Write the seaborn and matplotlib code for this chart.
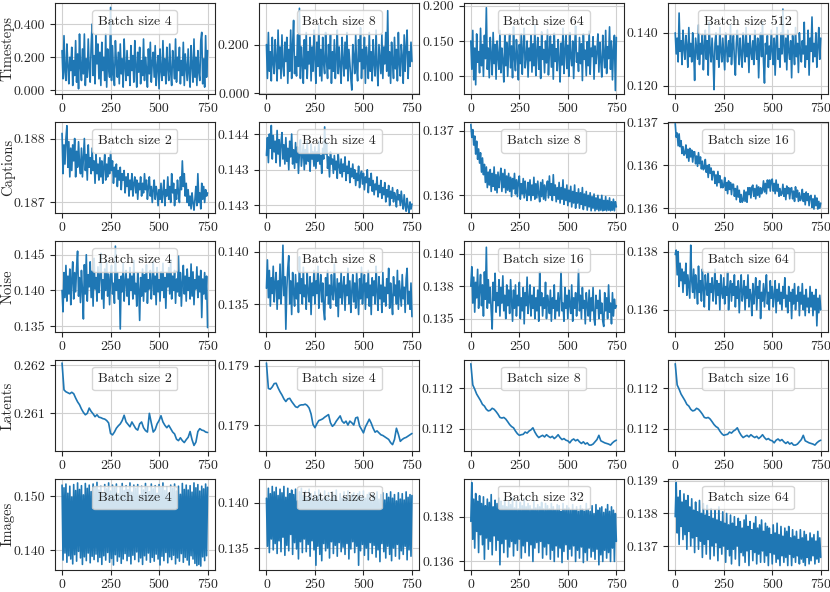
import numpy as np
import matplotlib
matplotlib.use("Agg")
import matplotlib.pyplot as plt
import seaborn as sns

# training steps (x axis)
steps = np.arange(0, 751, 5)
latent_steps = np.arange(0, 751, 10)

# ---- Timesteps ----
timesteps_bs4 = [0.240, 0.070, 0.330, 0.110, 0.060, 0.280, 0.150, 0.040, 0.200, 0.120,
                 0.260, 0.030, 0.180, 0.090, 0.300, 0.050, 0.220, 0.010, 0.340, 0.140,
                 0.060, 0.250, 0.100, 0.340, 0.030, 0.190, 0.080, 0.310, 0.130, 0.050,
                 0.270, 0.400, 0.090, 0.210, 0.040, 0.330, 0.160, 0.280, 0.070, 0.230,
                 0.030, 0.290, 0.120, 0.200, 0.060, 0.340, 0.020, 0.250, 0.140, 0.080,
                 0.500, 0.060, 0.270, 0.110, 0.030, 0.300, 0.170, 0.080, 0.230, 0.040,
                 0.280, 0.100, 0.190, 0.020, 0.310, 0.140, 0.060, 0.240, 0.090, 0.180,
                 0.030, 0.270, 0.120, 0.210, 0.050, 0.300, 0.150, 0.020, 0.230, 0.110,
                 0.260, 0.040, 0.180, 0.090, 0.310, 0.060, 0.200, 0.130, 0.020, 0.250,
                 0.100, 0.290, 0.050, 0.170, 0.230, 0.080, 0.270, 0.030, 0.140, 0.210,
                 0.010, 0.250, 0.120, 0.060, 0.300, 0.090, 0.190, 0.040, 0.260, 0.130,
                 0.060, 0.280, 0.110, 0.030, 0.240, 0.160, 0.070, 0.310, 0.050, 0.200,
                 0.120, 0.260, 0.040, 0.180, 0.090, 0.290, 0.030, 0.220, 0.140, 0.060,
                 0.250, 0.100, 0.020, 0.270, 0.150, 0.050, 0.310, 0.080, 0.200, 0.030,
                 0.240, 0.110, 0.060, 0.300, 0.350, 0.040, 0.190, 0.020, 0.330, 0.080,
                 0.240]
timesteps_bs8 = [0.200, 0.060, 0.250, 0.090, 0.170, 0.050, 0.230, 0.120, 0.080, 0.220,
                 0.140, 0.050, 0.260, 0.100, 0.190, 0.060, 0.240, 0.110, 0.070, 0.210,
                 0.130, 0.230, 0.040, 0.180, 0.090, 0.260, 0.060, 0.200, 0.300, 0.080,
                 0.150, 0.070, 0.240, 0.110, 0.350, 0.060, 0.190, 0.130, 0.040, 0.220,
                 0.100, 0.250, 0.060, 0.170, 0.120, 0.230, 0.050, 0.190, 0.090, 0.260,
                 0.140, 0.040, 0.210, 0.110, 0.280, 0.070, 0.180, 0.050, 0.230, 0.120,
                 0.080, 0.250, 0.130, 0.060, 0.200, 0.100, 0.240, 0.040, 0.170, 0.090,
                 0.220, 0.060, 0.150, 0.260, 0.080, 0.190, 0.110, 0.040, 0.230, 0.130,
                 0.070, 0.210, 0.100, 0.250, 0.050, 0.180, 0.120, 0.060, 0.012, 0.200,
                 0.150, 0.080, 0.240, 0.110, 0.050, 0.220, 0.130, 0.270, 0.060, 0.180,
                 0.100, 0.230, 0.040, 0.190, 0.140, 0.060, 0.250, 0.090, 0.170, 0.050,
                 0.220, 0.120, 0.070, 0.260, 0.110, 0.030, 0.200, 0.140, 0.080, 0.240,
                 0.060, 0.190, 0.120, 0.250, 0.090, 0.340, 0.070, 0.170, 0.040, 0.210,
                 0.130, 0.060, 0.230, 0.100, 0.180, 0.050, 0.250, 0.120, 0.070, 0.200,
                 0.150, 0.040, 0.240, 0.090, 0.190, 0.260, 0.060, 0.170, 0.110, 0.210,
                 0.130]
timesteps_bs64 = [0.150, 0.110, 0.165, 0.095, 0.140, 0.088, 0.160, 0.120, 0.135, 0.105,
                  0.168, 0.115, 0.145, 0.100, 0.158, 0.125, 0.197, 0.110, 0.140, 0.098,
                  0.155, 0.130, 0.102, 0.162, 0.118, 0.145, 0.096, 0.150, 0.128, 0.110,
                  0.165, 0.105, 0.140, 0.122, 0.092, 0.158, 0.115, 0.148, 0.100, 0.135,
                  0.160, 0.112, 0.143, 0.098, 0.170, 0.125, 0.108, 0.152, 0.130, 0.095,
                  0.145, 0.118, 0.160, 0.103, 0.138, 0.168, 0.112, 0.127, 0.150, 0.099,
                  0.140, 0.122, 0.158, 0.106, 0.146, 0.115, 0.172, 0.101, 0.133, 0.155,
                  0.110, 0.142, 0.097, 0.163, 0.124, 0.138, 0.105, 0.150, 0.119, 0.166,
                  0.102, 0.134, 0.157, 0.113, 0.145, 0.096, 0.161, 0.121, 0.139, 0.108,
                  0.152, 0.125, 0.092, 0.147, 0.116, 0.168, 0.104, 0.136, 0.158, 0.111,
                  0.144, 0.100, 0.162, 0.127, 0.115, 0.150, 0.097, 0.139, 0.171, 0.120,
                  0.133, 0.107, 0.155, 0.118, 0.146, 0.094, 0.160, 0.124, 0.137, 0.101,
                  0.149, 0.115, 0.164, 0.103, 0.140, 0.128, 0.156, 0.096, 0.143, 0.118,
                  0.135, 0.160, 0.106, 0.148, 0.121, 0.099, 0.158, 0.130, 0.112, 0.165,
                  0.104, 0.142, 0.125, 0.170, 0.110, 0.150, 0.095, 0.138, 0.158, 0.080,
                  0.155]
timesteps_bs512 = [0.1400, 0.1320, 0.1380, 0.1290, 0.1475, 0.1330, 0.1370, 0.1280, 0.1410, 0.1340,
                   0.1300, 0.1390, 0.1350, 0.1270, 0.1420, 0.1310, 0.1360, 0.1290, 0.1400, 0.1330,
                   0.1220, 0.1380, 0.1340, 0.1300, 0.1430, 0.1280, 0.1360, 0.1320, 0.1395, 0.1260,
                   0.1350, 0.1410, 0.1300, 0.1370, 0.1240, 0.1440, 0.1330, 0.1290, 0.1380, 0.1310,
                   0.1185, 0.1360, 0.1400, 0.1300, 0.1350, 0.1270, 0.1420, 0.1330, 0.1290, 0.1380,
                   0.1320, 0.1260, 0.1400, 0.1340, 0.1290, 0.1370, 0.1310, 0.1430, 0.1280, 0.1350,
                   0.1390, 0.1300, 0.1240, 0.1360, 0.1410, 0.1330, 0.1280, 0.1380, 0.1320, 0.1270,
                   0.1400, 0.1340, 0.1290, 0.1420, 0.1310, 0.1360, 0.1250, 0.1390, 0.1330, 0.1300,
                   0.1370, 0.1280, 0.1410, 0.1340, 0.1300, 0.1380, 0.1230, 0.1350, 0.1400, 0.1310,
                   0.1440, 0.1290, 0.1210, 0.1360, 0.1320, 0.1390, 0.1270, 0.1350, 0.1300, 0.1410,
                   0.1330, 0.1280, 0.1380, 0.1240, 0.1360, 0.1420, 0.1300, 0.1340, 0.1270, 0.1400,
                   0.1320, 0.1490, 0.1350, 0.1290, 0.1380, 0.1260, 0.1410, 0.1330, 0.1300, 0.1370,
                   0.1230, 0.1390, 0.1340, 0.1280, 0.1420, 0.1310, 0.1360, 0.1250, 0.1400, 0.1330,
                   0.1290, 0.1370, 0.1320, 0.1440, 0.1270, 0.1350, 0.1300, 0.1410, 0.1240, 0.1380,
                   0.1330, 0.1460, 0.1290, 0.1360, 0.1310, 0.1400, 0.1270, 0.1350, 0.1420, 0.1300,
                   0.1380]

# ---- Captions ----
captions_bs2 = [0.18808, 0.18745, 0.18790, 0.18760, 0.18800, 0.18820, 0.18755, 0.18795, 0.18740, 0.18785,
                0.18750, 0.18790, 0.18765, 0.18800, 0.18740, 0.18780, 0.18755, 0.18795, 0.18760, 0.18745,
                0.18785, 0.18740, 0.18770, 0.18800, 0.18750, 0.18775, 0.18735, 0.18790, 0.18755, 0.18770,
                0.18745, 0.18785, 0.18750, 0.18765, 0.18730, 0.18775, 0.18745, 0.18760, 0.18735, 0.18770,
                0.18740, 0.18765, 0.18730, 0.18755, 0.18775, 0.18735, 0.18760, 0.18740, 0.18770, 0.18745,
                0.18780, 0.18750, 0.18765, 0.18730, 0.18755, 0.18740, 0.18760, 0.18725, 0.18750, 0.18735,
                0.18755, 0.18720, 0.18745, 0.18735, 0.18750, 0.18715, 0.18740, 0.18725, 0.18745, 0.18710,
                0.18735, 0.18720, 0.18745, 0.18710, 0.18730, 0.18740, 0.18715, 0.18735, 0.18705, 0.18730,
                0.18720, 0.18740, 0.18710, 0.18730, 0.18715, 0.18745, 0.18720, 0.18735, 0.18705, 0.18725,
                0.18740, 0.18710, 0.18725, 0.18700, 0.18720, 0.18735, 0.18705, 0.18725, 0.18715, 0.18695,
                0.18720, 0.18705, 0.18730, 0.18700, 0.18715, 0.18735, 0.18695, 0.18720, 0.18710, 0.18740,
                0.18705, 0.18725, 0.18700, 0.18745, 0.18715, 0.18730, 0.18695, 0.18720, 0.18705, 0.18735,
                0.18715, 0.18700, 0.18740, 0.18720, 0.18765, 0.18725, 0.18745, 0.18710, 0.18730, 0.18700,
                0.18720, 0.18695, 0.18710, 0.18690, 0.18715, 0.18700, 0.18688, 0.18705, 0.18725, 0.18695,
                0.18745, 0.18700, 0.18715, 0.18690, 0.18730, 0.18705, 0.18725, 0.18700, 0.18720, 0.18710,
                0.18715]
captions_bs4 = [0.14370, 0.14395, 0.14360, 0.14400, 0.14380, 0.14412, 0.14365, 0.14398, 0.14375, 0.14390,
                0.14360, 0.14405, 0.14372, 0.14392, 0.14355, 0.14388, 0.14402, 0.14365, 0.14385, 0.14358,
                0.14395, 0.14362, 0.14380, 0.14350, 0.14390, 0.14368, 0.14400, 0.14358, 0.14378, 0.14352,
                0.14388, 0.14360, 0.14382, 0.14345, 0.14375, 0.14392, 0.14355, 0.14370, 0.14385, 0.14350,
                0.14378, 0.14358, 0.14390, 0.14362, 0.14372, 0.14348, 0.14386, 0.14365, 0.14375, 0.14355,
                0.14382, 0.14352, 0.14375, 0.14362, 0.14390, 0.14358, 0.14370, 0.14345, 0.14380, 0.14365,
                0.14410, 0.14372, 0.14388, 0.14352, 0.14368, 0.14340, 0.14375, 0.14358, 0.14365, 0.14345,
                0.14370, 0.14350, 0.14362, 0.14338, 0.14372, 0.14355, 0.14345, 0.14365, 0.14340, 0.14358,
                0.14348, 0.14368, 0.14335, 0.14355, 0.14345, 0.14362, 0.14332, 0.14352, 0.14340, 0.14358,
                0.14338, 0.14350, 0.14328, 0.14345, 0.14335, 0.14355, 0.14325, 0.14342, 0.14348, 0.14330,
                0.14345, 0.14322, 0.14340, 0.14332, 0.14350, 0.14318, 0.14338, 0.14328, 0.14345, 0.14320,
                0.14335, 0.14315, 0.14330, 0.14322, 0.14340, 0.14312, 0.14328, 0.14318, 0.14335, 0.14310,
                0.14325, 0.14315, 0.14332, 0.14305, 0.14322, 0.14312, 0.14328, 0.14300, 0.14320, 0.14310,
                0.14325, 0.14305, 0.14318, 0.14312, 0.14298, 0.14322, 0.14308, 0.14315, 0.14300, 0.14320,
                0.14305, 0.14295, 0.14315, 0.14300, 0.14292, 0.14310, 0.14298, 0.14290, 0.14305, 0.14295,
                0.14302]
captions_bs8 = [0.13710, 0.13690, 0.13702, 0.13678, 0.13692, 0.13664, 0.13684, 0.13656, 0.13672, 0.13650,
                0.13666, 0.13636, 0.13658, 0.13632, 0.13648, 0.13620, 0.13644, 0.13612, 0.13636, 0.13616,
                0.13640, 0.13606, 0.13634, 0.13614, 0.13644, 0.13608, 0.13632, 0.13604, 0.13636, 0.13612,
                0.13628, 0.13642, 0.13606, 0.13634, 0.13612, 0.13640, 0.13604, 0.13630, 0.13608, 0.13634,
                0.13606, 0.13628, 0.13598, 0.13626, 0.13610, 0.13634, 0.13602, 0.13624, 0.13598, 0.13622,
                0.13630, 0.13594, 0.13618, 0.13602, 0.13626, 0.13596, 0.13622, 0.13604, 0.13592, 0.13620,
                0.13600, 0.13624, 0.13592, 0.13616, 0.13600, 0.13628, 0.13594, 0.13618, 0.13596, 0.13622,
                0.13602, 0.13590, 0.13620, 0.13598, 0.13624, 0.13594, 0.13616, 0.13592, 0.13614, 0.13622,
                0.13596, 0.13630, 0.13600, 0.13618, 0.13592, 0.13632, 0.13600, 0.13616, 0.13590, 0.13612,
                0.13594, 0.13620, 0.13588, 0.13612, 0.13594, 0.13624, 0.13586, 0.13610, 0.13592, 0.13616,
                0.13584, 0.13608, 0.13590, 0.13614, 0.13582, 0.13606, 0.13588, 0.13616, 0.13580, 0.13604,
                0.13588, 0.13610, 0.13580, 0.13604, 0.13586, 0.13612, 0.13578, 0.13602, 0.13584, 0.13606,
                0.13577, 0.13600, 0.13582, 0.13604, 0.13576, 0.13598, 0.13580, 0.13602, 0.13576, 0.13596,
                0.13578, 0.13600, 0.13576, 0.13594, 0.13577, 0.13600, 0.13576, 0.13592, 0.13577, 0.13598,
                0.13576, 0.13592, 0.13577, 0.13596, 0.13576, 0.13590, 0.13577, 0.13594, 0.13576, 0.13590,
                0.13582]
captions_bs16 = [0.13699, 0.13683, 0.13688, 0.13673, 0.13687, 0.13672, 0.13679, 0.13664, 0.13672, 0.13662,
                 0.13664, 0.13674, 0.13659, 0.13669, 0.13655, 0.13670, 0.13660, 0.13668, 0.13654, 0.13666,
                 0.13666, 0.13652, 0.13661, 0.13649, 0.13665, 0.13652, 0.13660, 0.13646, 0.13655, 0.13645,
                 0.13647, 0.13657, 0.13642, 0.13650, 0.13636, 0.13651, 0.13641, 0.13647, 0.13633, 0.13643,
                 0.13643, 0.13629, 0.13639, 0.13626, 0.13643, 0.13630, 0.13638, 0.13624, 0.13633, 0.13624,
                 0.13626, 0.13636, 0.13621, 0.13630, 0.13617, 0.13632, 0.13622, 0.13630, 0.13616, 0.13628,
                 0.13628, 0.13614, 0.13623, 0.13610, 0.13626, 0.13613, 0.13621, 0.13607, 0.13616, 0.13607,
                 0.13609, 0.13621, 0.13608, 0.13619, 0.13607, 0.13624, 0.13616, 0.13624, 0.13612, 0.13625,
                 0.13627, 0.13614, 0.13623, 0.13611, 0.13627, 0.13615, 0.13625, 0.13613, 0.13624, 0.13617,
                 0.13621, 0.13632, 0.13619, 0.13629, 0.13617, 0.13633, 0.13624, 0.13633, 0.13620, 0.13633,
                 0.13634, 0.13620, 0.13629, 0.13617, 0.13633, 0.13620, 0.13628, 0.13614, 0.13623, 0.13615,
                 0.13617, 0.13628, 0.13614, 0.13623, 0.13610, 0.13626, 0.13617, 0.13624, 0.13611, 0.13623,
                 0.13624, 0.13611, 0.13620, 0.13608, 0.13625, 0.13613, 0.13621, 0.13608, 0.13618, 0.13609,
                 0.13612, 0.13622, 0.13608, 0.13617, 0.13604, 0.13619, 0.13609, 0.13617, 0.13603, 0.13614,
                 0.13615, 0.13601, 0.13611, 0.13599, 0.13615, 0.13603, 0.13612, 0.13599, 0.13608, 0.13600,
                 0.13606]

# ---- Noise ----
noise_bs4 = [0.1400, 0.1370, 0.1425, 0.1390, 0.1435, 0.1385, 0.1420, 0.1395, 0.1430, 0.1380,
             0.1415, 0.1440, 0.1388, 0.1425, 0.1398, 0.1432, 0.1455, 0.1392, 0.1418, 0.1383,
             0.1428, 0.1400, 0.1360, 0.1436, 0.1395, 0.1450, 0.1385, 0.1422, 0.1405, 0.1440,
             0.1390, 0.1427, 0.1378, 0.1445, 0.1402, 0.1418, 0.1385, 0.1433, 0.1397, 0.1420,
             0.1452, 0.1388, 0.1415, 0.1375, 0.1430, 0.1400, 0.1440, 0.1392, 0.1423, 0.1380,
             0.1418, 0.1435, 0.1395, 0.1410, 0.1382, 0.1462, 0.1400, 0.1425, 0.1388, 0.1415,
             0.1346, 0.1420, 0.1398, 0.1438, 0.1385, 0.1412, 0.1428, 0.1392, 0.1416, 0.1380,
             0.1432, 0.1400, 0.1420, 0.1388, 0.1442, 0.1395, 0.1410, 0.1378, 0.1425, 0.1402,
             0.1358, 0.1418, 0.1392, 0.1430, 0.1385, 0.1422, 0.1398, 0.1436, 0.1382, 0.1415,
             0.1402, 0.1428, 0.1388, 0.1412, 0.1440, 0.1394, 0.1420, 0.1380, 0.1432, 0.1398,
             0.1415, 0.1385, 0.1426, 0.1400, 0.1438, 0.1390, 0.1418, 0.1375, 0.1425, 0.1405,
             0.1432, 0.1395, 0.1443, 0.1388, 0.1420, 0.1400, 0.1428, 0.1382, 0.1416, 0.1398,
             0.1448, 0.1392, 0.1425, 0.1378, 0.1412, 0.1435, 0.1395, 0.1420, 0.1385, 0.1430,
             0.1400, 0.1418, 0.1388, 0.1437, 0.1392, 0.1426, 0.1380, 0.1415, 0.1402, 0.1433,
             0.1390, 0.1420, 0.1398, 0.1428, 0.1362, 0.1416, 0.1395, 0.1425, 0.1388, 0.1420,
             0.1348]
noise_bs8 = [0.1365, 0.1392, 0.1356, 0.1382, 0.1348, 0.1375, 0.1360, 0.1386, 0.1352, 0.1370,
             0.1380, 0.1345, 0.1372, 0.1355, 0.1388, 0.1350, 0.1368, 0.1406, 0.1358, 0.1376,
             0.1326, 0.1365, 0.1384, 0.1396, 0.1350, 0.1372, 0.1340, 0.1380, 0.1362, 0.1348,
             0.1378, 0.1355, 0.1370, 0.1342, 0.1395, 0.1360, 0.1374, 0.1350, 0.1385, 0.1357,
             0.1368, 0.1345, 0.1380, 0.1362, 0.1352, 0.1376, 0.1340, 0.1370, 0.1358, 0.1382,
             0.1350, 0.1372, 0.1360, 0.1386, 0.1346, 0.1366, 0.1378, 0.1352, 0.1370, 0.1344,
             0.1335, 0.1375, 0.1358, 0.1382, 0.1350, 0.1368, 0.1346, 0.1378, 0.1360, 0.1354,
             0.1388, 0.1362, 0.1348, 0.1374, 0.1338, 0.1370, 0.1356, 0.1380, 0.1350, 0.1366,
             0.1376, 0.1344, 0.1368, 0.1358, 0.1384, 0.1350, 0.1372, 0.1342, 0.1362, 0.1378,
             0.1352, 0.1370, 0.1346, 0.1380, 0.1360, 0.1340, 0.1374, 0.1355, 0.1385, 0.1350,
             0.1366, 0.1378, 0.1345, 0.1370, 0.1356, 0.1382, 0.1348, 0.1368, 0.1340, 0.1375,
             0.1358, 0.1372, 0.1350, 0.1386, 0.1362, 0.1344, 0.1376, 0.1355, 0.1368, 0.1342,
             0.1380, 0.1352, 0.1366, 0.1348, 0.1374, 0.1360, 0.1384, 0.1346, 0.1370, 0.1356,
             0.1340, 0.1376, 0.1358, 0.1368, 0.1350, 0.1382, 0.1345, 0.1372, 0.1360, 0.1348,
             0.1378, 0.1355, 0.1366, 0.1342, 0.1374, 0.1384, 0.1350, 0.1362, 0.1345, 0.1370,
             0.1338]
noise_bs16 = [0.1375, 0.1390, 0.1362, 0.1382, 0.1355, 0.1378, 0.1366, 0.1388, 0.1358, 0.1372,
              0.1384, 0.1360, 0.1376, 0.1352, 0.1386, 0.1365, 0.1405, 0.1358, 0.1380, 0.1362,
              0.1374, 0.1356, 0.1342, 0.1378, 0.1364, 0.1385, 0.1355, 0.1370, 0.1360, 0.1380,
              0.1352, 0.1374, 0.1362, 0.1383, 0.1356, 0.1368, 0.1350, 0.1376, 0.1360, 0.1372,
              0.1354, 0.1380, 0.1364, 0.1348, 0.1372, 0.1358, 0.1376, 0.1352, 0.1368, 0.1360,
              0.1378, 0.1350, 0.1366, 0.1356, 0.1374, 0.1346, 0.1370, 0.1360, 0.1382, 0.1354,
              0.1364, 0.1376, 0.1352, 0.1368, 0.1358, 0.1374, 0.1350, 0.1366, 0.1356, 0.1372,
              0.1348, 0.1386, 0.1360, 0.1370, 0.1352, 0.1366, 0.1358, 0.1378, 0.1350, 0.1368,
              0.1362, 0.1354, 0.1372, 0.1348, 0.1366, 0.1358, 0.1376, 0.1350, 0.1364, 0.1356,
              0.1370, 0.1352, 0.1366, 0.1386, 0.1356, 0.1362, 0.1348, 0.1374, 0.1358, 0.1368,
              0.1350, 0.1372, 0.1360, 0.1354, 0.1376, 0.1348, 0.1366, 0.1358, 0.1370, 0.1352,
              0.1364, 0.1388, 0.1356, 0.1368, 0.1350, 0.1374, 0.1358, 0.1364, 0.1346, 0.1370,
              0.1360, 0.1352, 0.1372, 0.1348, 0.1366, 0.1356, 0.1374, 0.1350, 0.1345, 0.1368,
              0.1358, 0.1364, 0.1350, 0.1372, 0.1354, 0.1362, 0.1348, 0.1344, 0.1370, 0.1356,
              0.1366, 0.1350, 0.1376, 0.1355, 0.1362, 0.1346, 0.1370, 0.1352, 0.1365, 0.1358,
              0.1360]
noise_bs64 = [0.13790, 0.13805, 0.13720, 0.13800, 0.13680, 0.13760, 0.13700, 0.13740, 0.13660, 0.13730,
              0.13690, 0.13760, 0.13650, 0.13720, 0.13680, 0.13640, 0.13822, 0.13700, 0.13660, 0.13740,
              0.13640, 0.13720, 0.13680, 0.13620, 0.13750, 0.13660, 0.13700, 0.13630, 0.13740, 0.13670,
              0.13610, 0.13720, 0.13680, 0.13650, 0.13730, 0.13600, 0.13690, 0.13660, 0.13710, 0.13630,
              0.13680, 0.13740, 0.13620, 0.13700, 0.13650, 0.13690, 0.13600, 0.13720, 0.13660, 0.13640,
              0.13710, 0.13620, 0.13680, 0.13650, 0.13730, 0.13600, 0.13670, 0.13700, 0.13630, 0.13690,
              0.13650, 0.13720, 0.13610, 0.13680, 0.13640, 0.13700, 0.13590, 0.13670, 0.13720, 0.13630,
              0.13660, 0.13700, 0.13600, 0.13680, 0.13640, 0.13720, 0.13610, 0.13670, 0.13650, 0.13580,
              0.13690, 0.13620, 0.13660, 0.13710, 0.13600, 0.13680, 0.13640, 0.13700, 0.13570, 0.13660,
              0.13630, 0.13690, 0.13610, 0.13670, 0.13720, 0.13620, 0.13660, 0.13600, 0.13700, 0.13640,
              0.13680, 0.13610, 0.13650, 0.13700, 0.13590, 0.13670, 0.13630, 0.13690, 0.13620, 0.13660,
              0.13600, 0.13680, 0.13640, 0.13710, 0.13610, 0.13650, 0.13590, 0.13680, 0.13630, 0.13660,
              0.13570, 0.13670, 0.13620, 0.13690, 0.13600, 0.13650, 0.13630, 0.13680, 0.13580, 0.13660,
              0.13620, 0.13690, 0.13600, 0.13650, 0.13580, 0.13670, 0.13610, 0.13640, 0.13590, 0.13680,
              0.13610, 0.13660, 0.13580, 0.13650, 0.13600, 0.13670, 0.13545, 0.13640, 0.13590, 0.13650,
              0.13600]

# ---- Latents (smoother, logged every 10 steps) ----
latents_bs2 = [0.26205, 0.26149, 0.26145, 0.26143, 0.26141, 0.26144, 0.26141, 0.26132, 0.26124, 0.26118,
               0.26109, 0.26102, 0.26097, 0.26100, 0.26111, 0.26104, 0.26099, 0.26093, 0.26097, 0.26092,
               0.26091, 0.26089, 0.26088, 0.26085, 0.26080, 0.26058, 0.26055, 0.26061, 0.26069, 0.26074,
               0.26078, 0.26085, 0.26096, 0.26082, 0.26077, 0.26072, 0.26082, 0.26075, 0.26068, 0.26065,
               0.26078, 0.26082, 0.26070, 0.26064, 0.26061, 0.26100, 0.26080, 0.26061, 0.26066, 0.26078,
               0.26085, 0.26095, 0.26082, 0.26075, 0.26070, 0.26075, 0.26068, 0.26061, 0.26057, 0.26046,
               0.26043, 0.26049, 0.26043, 0.26039, 0.26045, 0.26050, 0.26062, 0.26045, 0.26033, 0.26040,
               0.26062, 0.26068, 0.26065, 0.26064, 0.26061, 0.26060]
latents_bs4 = [0.179022, 0.178808, 0.178802, 0.178821, 0.178849, 0.178852, 0.178813, 0.178780, 0.178753, 0.178720,
               0.178698, 0.178720, 0.178725, 0.178698, 0.178676, 0.178654, 0.178648, 0.178665, 0.178670, 0.178670,
               0.178676, 0.178665, 0.178643, 0.178593, 0.178505, 0.178478, 0.178511, 0.178538, 0.178544, 0.178552,
               0.178566, 0.178577, 0.178588, 0.178519, 0.178489, 0.178505, 0.178533, 0.178555, 0.178577, 0.178533,
               0.178516, 0.178533, 0.178500, 0.178533, 0.178519, 0.178500, 0.178560, 0.178566, 0.178492, 0.178464,
               0.178434, 0.178484, 0.178516, 0.178549, 0.178516, 0.178473, 0.178440, 0.178451, 0.178434, 0.178418,
               0.178412, 0.178401, 0.178390, 0.178379, 0.178352, 0.178335, 0.178379, 0.178473, 0.178423, 0.178363,
               0.178379, 0.178390, 0.178396, 0.178407, 0.178418, 0.178429]
latents_bs8 = [0.112120, 0.112016, 0.111995, 0.111971, 0.111955, 0.111939, 0.111920, 0.111912, 0.111896, 0.111888,
               0.111891, 0.111901, 0.111896, 0.111885, 0.111872, 0.111856, 0.111853, 0.111856, 0.111848, 0.111835,
               0.111821, 0.111811, 0.111805, 0.111789, 0.111776, 0.111768, 0.111771, 0.111773, 0.111784, 0.111779,
               0.111789, 0.111795, 0.111805, 0.111784, 0.111768, 0.111757, 0.111763, 0.111768, 0.111760, 0.111771,
               0.111763, 0.111757, 0.111763, 0.111752, 0.111760, 0.111771, 0.111757, 0.111747, 0.111752, 0.111744,
               0.111741, 0.111731, 0.111744, 0.111750, 0.111741, 0.111747, 0.111736, 0.111728, 0.111736, 0.111725,
               0.111731, 0.111720, 0.111720, 0.111725, 0.111736, 0.111747, 0.111768, 0.111741, 0.111736, 0.111731,
               0.111728, 0.111725, 0.111720, 0.111731, 0.111739, 0.111744]
latents_bs16 = list(latents_bs8)  # the two runs look identical in the figure

# ---- Images ----
images_bs4 = [0.1520, 0.1382, 0.1515, 0.1395, 0.1522, 0.1378, 0.1505, 0.1390, 0.1518, 0.1384,
              0.1498, 0.1375, 0.1521, 0.1392, 0.1510, 0.1380, 0.1524, 0.1398, 0.1512, 0.1386,
              0.1519, 0.1374, 0.1502, 0.1388, 0.1523, 0.1381, 0.1514, 0.1395, 0.1520, 0.1377,
              0.1508, 0.1389, 0.1522, 0.1383, 0.1516, 0.1393, 0.1525, 0.1379, 0.1511, 0.1387,
              0.1518, 0.1374, 0.1506, 0.1390, 0.1521, 0.1382, 0.1513, 0.1396, 0.1524, 0.1378,
              0.1509, 0.1385, 0.1520, 0.1373, 0.1515, 0.1392, 0.1522, 0.1380, 0.1504, 0.1388,
              0.1517, 0.1376, 0.1523, 0.1384, 0.1510, 0.1394, 0.1519, 0.1381, 0.1512, 0.1389,
              0.1524, 0.1375, 0.1507, 0.1391, 0.1520, 0.1383, 0.1514, 0.1397, 0.1521, 0.1379,
              0.1502, 0.1386, 0.1518, 0.1374, 0.1511, 0.1390, 0.1523, 0.1382, 0.1516, 0.1395,
              0.1508, 0.1378, 0.1522, 0.1387, 0.1513, 0.1380, 0.1519, 0.1393, 0.1505, 0.1384,
              0.1521, 0.1373, 0.1515, 0.1389, 0.1524, 0.1381, 0.1510, 0.1396, 0.1517, 0.1377,
              0.1506, 0.1388, 0.1520, 0.1383, 0.1514, 0.1391, 0.1522, 0.1375, 0.1509, 0.1386,
              0.1518, 0.1380, 0.1503, 0.1394, 0.1523, 0.1378, 0.1512, 0.1387, 0.1520, 0.1382,
              0.1511, 0.1373, 0.1519, 0.1390, 0.1507, 0.1384, 0.1524, 0.1376, 0.1515, 0.1372,
              0.1521, 0.1374, 0.1509, 0.1371, 0.1518, 0.1388, 0.1513, 0.1381, 0.1522, 0.1390,
              0.1516]
images_bs8 = [0.1405, 0.1352, 0.1416, 0.1345, 0.1410, 0.1360, 0.1418, 0.1348, 0.1412, 0.1355,
              0.1417, 0.1344, 0.1408, 0.1358, 0.1415, 0.1346, 0.1411, 0.1362, 0.1418, 0.1342,
              0.1406, 0.1353, 0.1416, 0.1347, 0.1410, 0.1365, 0.1414, 0.1343, 0.1409, 0.1356,
              0.1415, 0.1349, 0.1402, 0.1338, 0.1412, 0.1357, 0.1416, 0.1345, 0.1408, 0.1360,
              0.1413, 0.1346, 0.1405, 0.1354, 0.1415, 0.1341, 0.1410, 0.1358, 0.1404, 0.1348,
              0.1412, 0.1331, 0.1407, 0.1352, 0.1414, 0.1343, 0.1409, 0.1336, 0.1403, 0.1355,
              0.1413, 0.1347, 0.1406, 0.1350, 0.1411, 0.1339, 0.1404, 0.1357, 0.1412, 0.1344,
              0.1408, 0.1353, 0.1414, 0.1341, 0.1402, 0.1356, 0.1410, 0.1346, 0.1405, 0.1351,
              0.1412, 0.1343, 0.1406, 0.1355, 0.1413, 0.1338, 0.1403, 0.1349, 0.1409, 0.1357,
              0.1411, 0.1345, 0.1404, 0.1352, 0.1410, 0.1331, 0.1412, 0.1347, 0.1406, 0.1354,
              0.1413, 0.1342, 0.1405, 0.1350, 0.1409, 0.1337, 0.1411, 0.1356, 0.1402, 0.1344,
              0.1410, 0.1353, 0.1407, 0.1340, 0.1412, 0.1348, 0.1404, 0.1335, 0.1409, 0.1355,
              0.1411, 0.1346, 0.1403, 0.1339, 0.1410, 0.1352, 0.1406, 0.1343, 0.1412, 0.1336,
              0.1405, 0.1350, 0.1409, 0.1341, 0.1402, 0.1354, 0.1411, 0.1338, 0.1404, 0.1347,
              0.1410, 0.1343, 0.1403, 0.1352, 0.1412, 0.1337, 0.1406, 0.1348, 0.1409, 0.1341,
              0.1408]
images_bs32 = [0.13780, 0.13954, 0.13700, 0.13880, 0.13660, 0.13905, 0.13735, 0.13870, 0.13640, 0.13895,
               0.13720, 0.13860, 0.13675, 0.13890, 0.13610, 0.13850, 0.13705, 0.13880, 0.13655, 0.13865,
               0.13690, 0.13900, 0.13630, 0.13845, 0.13715, 0.13875, 0.13650, 0.13860, 0.13695, 0.13885,
               0.13585, 0.13870, 0.13680, 0.13850, 0.13640, 0.13880, 0.13700, 0.13845, 0.13620, 0.13870,
               0.13665, 0.13855, 0.13690, 0.13885, 0.13625, 0.13840, 0.13680, 0.13870, 0.13650, 0.13835,
               0.13700, 0.13865, 0.13615, 0.13850, 0.13670, 0.13880, 0.13640, 0.13845, 0.13690, 0.13860,
               0.13625, 0.13850, 0.13675, 0.13835, 0.13600, 0.13870, 0.13660, 0.13840, 0.13685, 0.13855,
               0.13640, 0.13845, 0.13690, 0.13865, 0.13615, 0.13835, 0.13665, 0.13860, 0.13630, 0.13850,
               0.13680, 0.13835, 0.13610, 0.13860, 0.13650, 0.13845, 0.13600, 0.13830, 0.13670, 0.13855,
               0.13620, 0.13850, 0.13660, 0.13825, 0.13595, 0.13860, 0.13645, 0.13835, 0.13675, 0.13850,
               0.13610, 0.13840, 0.13655, 0.13830, 0.13625, 0.13855, 0.13670, 0.13830, 0.13600, 0.13845,
               0.13650, 0.13825, 0.13615, 0.13850, 0.13665, 0.13835, 0.13595, 0.13825, 0.13640, 0.13860,
               0.13605, 0.13835, 0.13660, 0.13825, 0.13620, 0.13850, 0.13645, 0.13815, 0.13610, 0.13855,
               0.13655, 0.13830, 0.13585, 0.13840, 0.13630, 0.13845, 0.13600, 0.13820, 0.13650, 0.13835,
               0.13615, 0.13855, 0.13640, 0.13825, 0.13600, 0.13845, 0.13660, 0.13830, 0.13600, 0.13815,
               0.13690]
images_bs64 = [0.13790, 0.13895, 0.13740, 0.13850, 0.13705, 0.13870, 0.13760, 0.13835, 0.13720, 0.13860,
               0.13735, 0.13840, 0.13690, 0.13855, 0.13745, 0.13820, 0.13700, 0.13845, 0.13725, 0.13810,
               0.13680, 0.13835, 0.13730, 0.13805, 0.13690, 0.13840, 0.13715, 0.13800, 0.13665, 0.13830,
               0.13705, 0.13795, 0.13675, 0.13825, 0.13720, 0.13790, 0.13660, 0.13815, 0.13700, 0.13785,
               0.13670, 0.13810, 0.13710, 0.13780, 0.13655, 0.13820, 0.13695, 0.13775, 0.13675, 0.13805,
               0.13700, 0.13770, 0.13650, 0.13800, 0.13690, 0.13765, 0.13670, 0.13795, 0.13645, 0.13770,
               0.13690, 0.13790, 0.13660, 0.13760, 0.13700, 0.13785, 0.13640, 0.13775, 0.13680, 0.13755,
               0.13670, 0.13780, 0.13650, 0.13795, 0.13685, 0.13760, 0.13640, 0.13775, 0.13690, 0.13750,
               0.13655, 0.13770, 0.13680, 0.13790, 0.13645, 0.13755, 0.13675, 0.13765, 0.13650, 0.13780,
               0.13685, 0.13745, 0.13650, 0.13770, 0.13670, 0.13760, 0.13640, 0.13755, 0.13680, 0.13735,
               0.13645, 0.13765, 0.13675, 0.13740, 0.13650, 0.13770, 0.13660, 0.13735, 0.13640, 0.13760,
               0.13670, 0.13730, 0.13650, 0.13755, 0.13665, 0.13745, 0.13640, 0.13760, 0.13675, 0.13725,
               0.13640, 0.13750, 0.13665, 0.13730, 0.13650, 0.13745, 0.13670, 0.13720, 0.13645, 0.13750,
               0.13660, 0.13725, 0.13650, 0.13745, 0.13640, 0.13735, 0.13665, 0.13715, 0.13645, 0.13740,
               0.13655, 0.13725, 0.13670, 0.13735, 0.13645, 0.13715, 0.13660, 0.13745, 0.13650, 0.13725,
               0.13665]

row_names = ["Timesteps", "Captions", "Noise", "Latents", "Images"]
batch_sizes = [[4, 8, 64, 512], [2, 4, 8, 16], [4, 8, 16, 64], [2, 4, 8, 16], [4, 8, 32, 64]]
series = [[timesteps_bs4, timesteps_bs8, timesteps_bs64, timesteps_bs512],
          [captions_bs2, captions_bs4, captions_bs8, captions_bs16],
          [noise_bs4, noise_bs8, noise_bs16, noise_bs64],
          [latents_bs2, latents_bs4, latents_bs8, latents_bs16],
          [images_bs4, images_bs8, images_bs32, images_bs64]]
x_ticks = [0, 250, 500, 750]

# y range and ticks of every panel, as in the figure
y_limits = [[(-0.024, 0.527), (-0.006, 0.372), (0.0744, 0.2038), (0.1167, 0.1513)],
            [(0.18683, 0.18826), (0.14289, 0.14417), (0.13572, 0.13714), (0.13594, 0.13701)],
            [(0.13414, 0.14695), (0.13231, 0.14102), (0.13395, 0.1410), (0.13523, 0.13837)],
            [(0.26021, 0.26212), (0.17828, 0.17905), (0.11169, 0.11214), (0.11169, 0.11214)],
            [(0.13635, 0.1532), (0.13256, 0.14267), (0.13561, 0.13972), (0.13626, 0.13907)]]
y_ticks = [[[0.0, 0.2, 0.4], [0.0, 0.2], [0.10, 0.15, 0.20], [0.12, 0.14]],
           [[0.187, 0.188], [0.1430, 0.1435, 0.1440], [0.136, 0.137], [0.1360, 0.1365, 0.1370]],
           [[0.135, 0.140, 0.145], [0.135, 0.140], [0.135, 0.1375, 0.140], [0.136, 0.138]],
           [[0.261, 0.262], [0.1785, 0.1790], [0.1118, 0.1120], [0.1118, 0.1120]],
           [[0.140, 0.150], [0.135, 0.140], [0.136, 0.138], [0.137, 0.138, 0.139]]]
y_ticklabels = [[["0.000", "0.200", "0.400"], ["0.000", "0.200"], ["0.100", "0.150", "0.200"], ["0.120", "0.140"]],
                [["0.187", "0.188"], ["0.143", "0.143", "0.144"], ["0.136", "0.137"], ["0.136", "0.136", "0.137"]],
                [["0.135", "0.140", "0.145"], ["0.135", "0.140"], ["0.135", "0.138", "0.140"], ["0.136", "0.138"]],
                [["0.261", "0.262"], ["0.179", "0.179"], ["0.112", "0.112"], ["0.112", "0.112"]],
                [["0.140", "0.150"], ["0.135", "0.140"], ["0.136", "0.138"], ["0.137", "0.138", "0.139"]]]

sns.set_theme(style="ticks", rc={
    "axes.grid": True,
    "grid.color": "#d0d0d0",
    "grid.linewidth": 0.8,
    "axes.edgecolor": "#262626",
    "axes.linewidth": 0.8,
    "xtick.major.size": 3.5,
    "ytick.major.size": 3.5,
    "xtick.major.width": 0.8,
    "ytick.major.width": 0.8,
    "xtick.major.pad": 2.5,
    "xtick.labelsize": 10,
    "ytick.labelsize": 10,
    "axes.labelsize": 10.5,
    "legend.fontsize": 10,
})
plt.rcParams["font.family"] = ["cmr10", "DejaVu Serif"]
plt.rcParams["mathtext.fontset"] = "cm"
plt.rcParams["axes.formatter.use_mathtext"] = True

fig, axes = plt.subplots(5, 4, figsize=(8.3, 5.92), dpi=100)
fig.subplots_adjust(left=0.066, right=0.9976, top=0.995, bottom=0.037,
                    wspace=0.277, hspace=0.30)

for r in range(5):
    for c in range(4):
        ax = axes[r, c]
        vals = series[r][c]
        xs = latent_steps if r == 3 else steps
        sns.lineplot(x=xs, y=vals, ax=ax, color="#1f77b4", linewidth=1.2,
                     label=f"Batch size {batch_sizes[r][c]}")
        ax.set_xlim(-37.5, 787.5)
        ax.set_ylim(*y_limits[r][c])
        ax.set_xticks(x_ticks)
        ax.set_xticklabels([str(t) for t in x_ticks])
        ax.set_yticks(y_ticks[r][c])
        ax.set_yticklabels(y_ticklabels[r][c])
        ax.legend(loc="upper center", handlelength=0, handletextpad=0,
                  framealpha=0.8, fancybox=True)
        ax.set_xlabel("")
        if c == 0:
            ax.set_ylabel(row_names[r])
            ax.yaxis.set_label_coords(-0.25, 0.5)
        else:
            ax.set_ylabel("")

fig.savefig("out.png", dpi=100)
